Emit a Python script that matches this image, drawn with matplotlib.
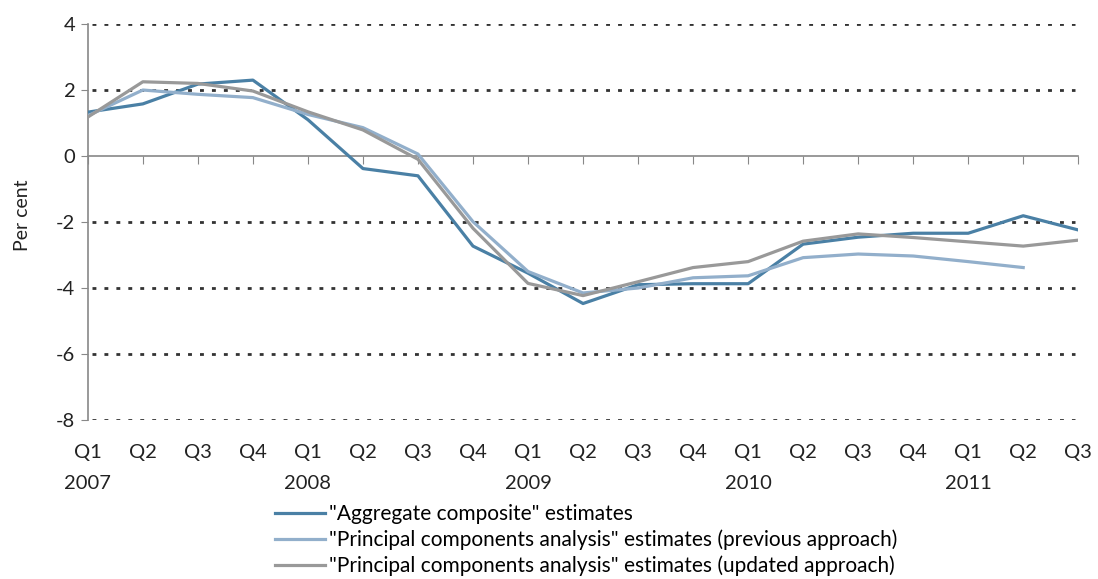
import matplotlib.pyplot as plt

plt.rcParams['font.family'] = ['Lato', 'DejaVu Sans']

quarters = ["Q1", "Q2", "Q3", "Q4"] * 4 + ["Q1", "Q2", "Q3"]
years = ["2007", "2008", "2009", "2010", "2011"]

aggregate = [1.33, 1.58, 2.18, 2.30, 1.10, -0.38, -0.60, -2.73, -3.55, -4.47,
             -3.90, -3.87, -3.87, -2.67, -2.46, -2.34, -2.34, -1.81, -2.24]
pca_previous = [1.22, 2.00, 1.87, 1.77, 1.26, 0.86, 0.06, -1.99, -3.50, -4.15,
                -4.00, -3.69, -3.63, -3.08, -2.97, -3.03, -3.20, -3.38]
pca_updated = [1.18, 2.25, 2.20, 1.97, 1.34, 0.79, -0.10, -2.19, -3.86, -4.23,
               -3.81, -3.38, -3.20, -2.58, -2.36, -2.47, -2.60, -2.73, -2.55]

labels = ['"Aggregate composite" estimates',
          '"Principal components analysis" estimates (previous approach)',
          '"Principal components analysis" estimates (updated approach)']
colors = ["#4a80a5", "#92afcb", "#999999"]

fig = plt.figure(figsize=(10.98, 5.79), dpi=100)
ax = fig.add_axes([0.080, 0.2746, 0.902, 0.6839])

# dotted grid lines
for y in [4, 2, -2, -4, -6, -8]:
    ax.axhline(y, xmin=0.004, xmax=0.997, color="#333333", lw=2.0,
               linestyle=(0, (1.4, 2.9)), zorder=1)

xs = list(range(len(quarters)))
ax.plot(xs[:len(aggregate)], aggregate, color=colors[0], lw=2.3,
        label=labels[0], zorder=3)
ax.plot(xs[:len(pca_previous)], pca_previous, color=colors[1], lw=2.3,
        label=labels[1], zorder=3)
ax.plot(xs[:len(pca_updated)], pca_updated, color=colors[2], lw=2.3,
        label=labels[2], zorder=3)

ax.set_xlim(0, len(quarters) - 1)
ax.set_ylim(-8, 4)
ax.set_yticks([4, 2, 0, -2, -4, -6, -8])
ax.set_yticklabels(["4", "2", "0", "-2", "-4", "-6", "-8"])
ax.tick_params(axis="y", length=5, color="#888888", labelsize=14.5,
               labelcolor="#222222", pad=4)

for s in ["top", "right"]:
    ax.spines[s].set_visible(False)
ax.spines["left"].set_color("#888888")
ax.spines["left"].set_linewidth(1.2)
ax.spines["bottom"].set_position(("data", 0))
ax.spines["bottom"].set_color("#888888")
ax.spines["bottom"].set_linewidth(1.2)
ax.set_xticks(xs)
ax.tick_params(axis="x", direction="out", length=6, color="#888888",
               labelbottom=False)

# category labels below the plot
for i, q in enumerate(quarters):
    ax.text(i, -0.082, q, transform=ax.get_xaxis_transform(), ha="center",
            va="center", fontsize=14.5, color="#222222")
for j, yr in enumerate(years):
    ax.text(j * 4, -0.16, yr, transform=ax.get_xaxis_transform(),
            ha="center", va="center", fontsize=14.5, color="#222222")

ax.set_ylabel("Per cent", fontsize=14, color="#222222")
ax.yaxis.set_label_coords(-0.0576, 0.518)

fig.legend(loc="upper left", bbox_to_anchor=(0.2505, 0.129), frameon=False,
           fontsize=15, handlelength=2.4, handletextpad=0.2,
           labelspacing=0.25, borderpad=0, borderaxespad=0)

plt.savefig("out.png", dpi=100)
plt.close()
